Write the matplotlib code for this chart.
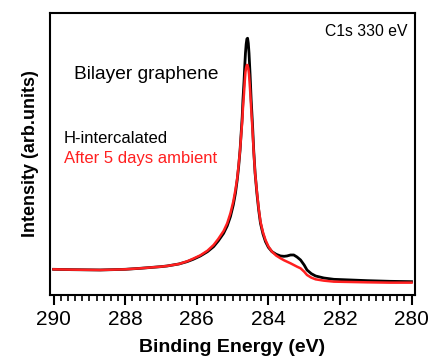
import numpy as np
import matplotlib.pyplot as plt
from matplotlib.ticker import MultipleLocator

plt.rcParams['font.family'] = ['Liberation Sans', 'DejaVu Sans']

# binding energy (eV) and intensity (arb. units)
be_h = [290.0, 289.5, 288.7, 288.0, 287.58, 287.0, 286.83, 286.5, 286.27, 286.1,
        285.9, 285.7, 285.53, 285.4, 285.25, 285.15, 285.06, 284.98, 284.92,
        284.87, 284.83, 284.79, 284.76, 284.73, 284.71, 284.68, 284.66, 284.64,
        284.62, 284.6, 284.58, 284.56, 284.54, 284.51, 284.48, 284.44, 284.41,
        284.37, 284.32, 284.27, 284.22, 284.15, 284.08, 284.0, 283.9, 283.78,
        283.66, 283.56, 283.48, 283.38, 283.29, 283.2, 283.1, 283.0, 282.92,
        282.8, 282.68, 282.45, 282.17, 281.7, 281.24, 280.6, 280.0]
int_h = [77, 76, 75, 77, 80, 85, 87, 93, 100, 107,
         117, 130, 145, 162, 185, 207, 235, 270, 305,
         345, 385, 435, 485, 535, 585, 640, 685, 725,
         752, 768, 770, 755, 725, 660, 585, 505, 435,
         365, 305, 255, 215, 183, 160, 143, 130, 122,
         117, 116, 117, 120, 120, 114, 105, 90, 75,
         64, 57, 51, 47, 45, 43, 41, 40]

be_air = be_h
int_air = [77, 76, 75, 77, 80, 85, 87, 93, 101, 109,
           119, 133, 150, 168, 192, 215, 245, 280, 315,
           350, 390, 435, 480, 520, 560, 605, 640, 668,
           682, 690, 689, 680, 662, 615, 560, 490, 430,
           365, 310, 260, 220, 188, 165, 146, 130, 118,
           110, 104, 100, 95, 90, 85, 80, 70, 60,
           52, 47, 43, 40, 39, 38, 37, 37]

fig = plt.figure(figsize=(4.29, 3.58), dpi=100)
ax = fig.add_axes([0.1166, 0.176, 0.851, 0.788])

ax.plot(be_h, int_h, color='black', linewidth=2)
ax.plot(be_air, int_air, color='#ff2020', linewidth=1.8)

ax.set_xlim(290.1, 279.9)
ax.set_ylim(0, 846)
ax.xaxis.set_major_locator(MultipleLocator(2))
ax.xaxis.set_minor_locator(MultipleLocator(0.2))
ax.set_yticks([])
ax.tick_params(axis='x', which='major', direction='out', length=7, width=1.5,
               labelsize=15, pad=4)
ax.tick_params(axis='x', which='minor', direction='out', length=4, width=1.2)
for s in ax.spines.values():
    s.set_linewidth(1.5)

ax.set_xlabel('Binding Energy (eV)', fontsize=14, fontweight='bold', labelpad=7)
ax.set_ylabel('Intensity (arb.units)', fontsize=13, fontweight='bold', labelpad=8)

ax.text(0.065, 0.78, 'Bilayer graphene', transform=ax.transAxes, fontsize=13.8,
        va='center', ha='left')
ax.text(0.037, 0.555, 'H-intercalated', transform=ax.transAxes, fontsize=12,
        va='center', ha='left', color='black')
ax.text(0.037, 0.485, 'After 5 days ambient', transform=ax.transAxes, fontsize=12,
        va='center', ha='left', color='#ff2020')
ax.text(0.98, 0.935, 'C1s 330 eV', transform=ax.transAxes, fontsize=11.3,
        va='center', ha='right')

fig.savefig('out.png', dpi=100)
